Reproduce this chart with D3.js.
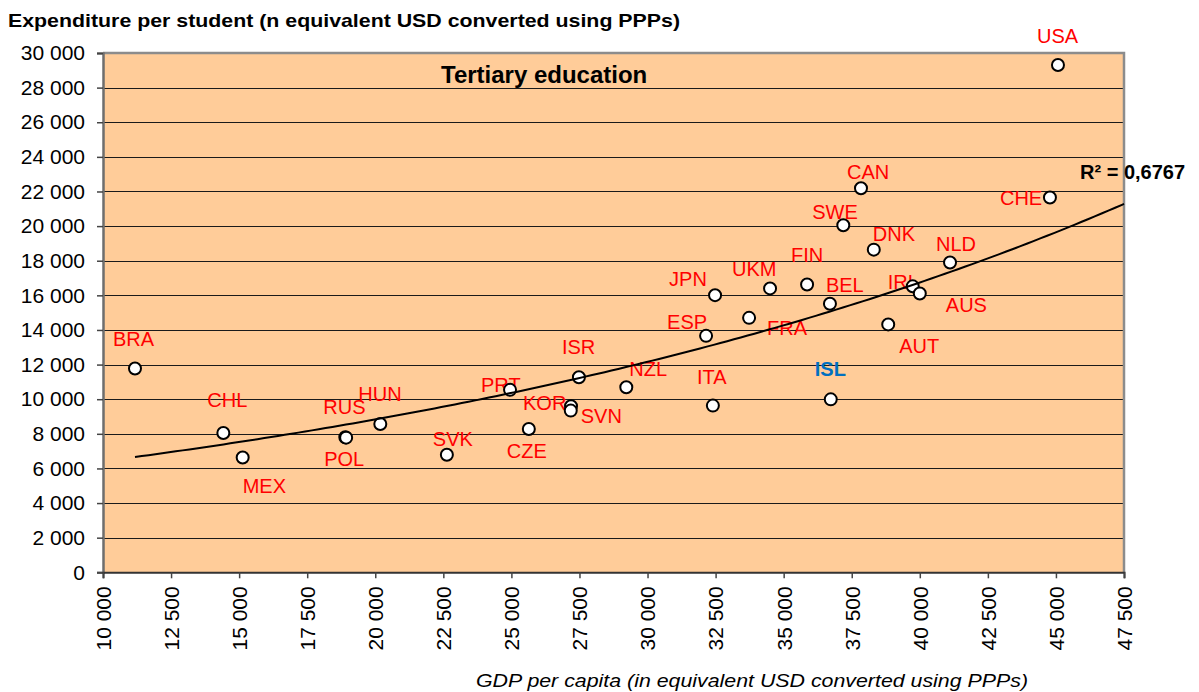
<!DOCTYPE html>
<html>
<head>
<meta charset="utf-8">
<script src="https://cdn.jsdelivr.net/npm/d3@7"></script>
<style>
  body { margin: 0; background: #fff; }
  svg { display: block; font-family: "Liberation Sans", Arial, sans-serif; }
</style>
</head>
<body>
<svg id="chart"></svg>
<script>
// ---- data
let countries = ['BRA','CHL','MEX','RUS','POL','HUN','SVK','PRT','KOR','SVN','CZE','ISR','NZL','ITA','ESP','JPN',
  'UKM','FRA','BEL','FIN','ISL','CAN','SWE','DNK','NLD','IRL','AUS','AUT','CHE','USA']
let gdp = [11175, 14420, 15130, 18900, 18930, 20185, 22630, 24950, 27190, 27180, 25640, 27480, 29220, 32400, 32150, 32480,
  34500, 33730, 36700, 35860, 36730, 37840, 37190, 38310, 41110, 39740, 40000, 38840, 44780, 45075]
let spend = [11770, 8050, 6630, 7800, 7780, 8570, 6790, 10540, 9590, 9340, 8280, 11270, 10690, 9630, 13660, 16010,
  16400, 14700, 15510, 16630, 9990, 22190, 20050, 18640, 17900, 16520, 16110, 14320, 21650, 29310]
let highlight = ['ISL']

// exponential trendline (Excel), read at its two ends: [gdp, expenditure]
let trendStart = [11175, 6660]
let trendEnd = [47500, 21280]

let xTicks = d3.range(10000, 47501, 2500)
let yTicks = d3.range(0, 30001, 2000)

// label placement (px, relative to the marker)
let labelPos = {
  BRA:[-22,-23], CHL:[-16,-26], MEX:[0,35], RUS:[-22,-23], POL:[-22,28], HUN:[-22,-23], SVK:[-14,-9],
  PRT:[-29,2], KOR:[-48,4], SVN:[10,12], CZE:[-22,29], ISR:[-17,-23], NZL:[3,-11], ITA:[-16,-22],
  ESP:[-39,-7], JPN:[-46,-9], UKM:[-38,-12], FRA:[18,17], BEL:[-4,-12], FIN:[-16,-22], ISL:[-16,-23],
  CAN:[-14,-9], SWE:[-31,-6], DNK:[-1,-9], NLD:[-14,-11], IRL:[-25,3], AUS:[26,19], AUT:[11,29],
  CHE:[-50,7], USA:[-21,-22]
}

let W = 1199, H = 692
let plot = {left: 103, right: 1124, top: 53, bottom: 572.3}

let svg = d3.select('#chart').attr('width', W).attr('height', H)

let x = d3.scaleLinear().domain([10000, 47500]).range([plot.left, plot.right])
let y = d3.scaleLinear().domain([0, 30000]).range([plot.bottom, plot.top])

let fmt = d => d3.format(',')(d).replace(/,/g, ' ')

// background
svg.append('rect')
  .attr('x', plot.left).attr('y', plot.top)
  .attr('width', plot.right - plot.left).attr('height', plot.bottom - plot.top)
  .attr('fill', '#FFCC99')

// gridlines
svg.append('g').selectAll('line').data(yTicks.filter(d => d > 0 && d < 30000))
  .enter().append('line')
  .attr('x1', plot.left).attr('x2', plot.right)
  .attr('y1', d => Math.round(y(d)) + 0.5).attr('y2', d => Math.round(y(d)) + 0.5)
  .attr('stroke', '#1a1a1a').attr('stroke-width', 1)

// border top / right
svg.append('path')
  .attr('d', `M${plot.left},${plot.top}H${plot.right}V${plot.bottom}`)
  .attr('fill', 'none').attr('stroke', '#8c8c8c').attr('stroke-width', 2.5)

// axes
let axisY = d3.axisLeft(y).tickValues(yTicks).tickFormat(fmt).tickSize(6).tickPadding(12)
let gy = svg.append('g').attr('transform', `translate(${plot.left},0)`).call(axisY)
gy.select('.domain').attr('stroke', '#6e6e6e').attr('stroke-width', 2.5)
gy.selectAll('.tick line').attr('stroke', '#444').attr('stroke-width', 1.5)
gy.selectAll('.tick text').attr('font-size', 21).attr('fill', '#000')
  .style('font-family', '"Liberation Sans", Arial, sans-serif')

let axisX = d3.axisBottom(x).tickValues(xTicks).tickFormat(fmt).tickSize(6).tickPadding(8)
let gx = svg.append('g').attr('transform', `translate(0,${plot.bottom})`).call(axisX)
gx.select('.domain').attr('stroke', '#333').attr('stroke-width', 2)
gx.selectAll('.tick line').attr('stroke', '#444').attr('stroke-width', 1.5)
gx.selectAll('.tick text').attr('font-size', 21).attr('fill', '#000')
  .style('font-family', '"Liberation Sans", Arial, sans-serif')
  .attr('transform', 'rotate(-90)')
  .attr('text-anchor', 'end')
  .attr('x', -14).attr('y', 0).attr('dy', '0.35em')

// exponential trend through the two read ends
let b = Math.log(trendEnd[1] / trendStart[1]) / (trendEnd[0] - trendStart[0])
let a = trendStart[1] / Math.exp(b * trendStart[0])
let trendX = d3.range(trendStart[0], trendEnd[0], 250).concat([trendEnd[0]])
let lineGen = d3.line().x(d => x(d)).y(d => y(a * Math.exp(b * d)))

// labels (drawn under markers)
let data = countries.map((c, i) => ({c: c, gx: gdp[i], sp: spend[i]}))
svg.append('g').selectAll('text').data(data)
  .enter().append('text')
  .attr('x', d => x(d.gx) + labelPos[d.c][0])
  .attr('y', d => y(d.sp) + labelPos[d.c][1])
  .attr('font-size', 20)
  .attr('font-weight', d => highlight.includes(d.c) ? 'bold' : 'normal')
  .attr('fill', d => highlight.includes(d.c) ? '#0070C0' : '#FF0000')
  .text(d => d.c)

// markers
svg.append('g').selectAll('circle').data(data)
  .enter().append('circle')
  .attr('cx', d => x(d.gx)).attr('cy', d => y(d.sp))
  .attr('r', 6)
  .attr('fill', '#fff').attr('stroke', '#000').attr('stroke-width', 2)

svg.append('path')
  .datum(trendX)
  .attr('d', lineGen)
  .attr('fill', 'none').attr('stroke', '#000').attr('stroke-width', 2)

// texts
svg.append('text')
  .attr('x', 8).attr('y', 27)
  .attr('font-size', 19).attr('font-weight', 'bold')
  .attr('textLength', 672).attr('lengthAdjust', 'spacingAndGlyphs')
  .text('Expenditure per student (n equivalent USD converted using PPPs)')

svg.append('text')
  .attr('x', 441).attr('y', 82.5)
  .attr('font-size', 24).attr('font-weight', 'bold')
  .text('Tertiary education')

svg.append('text')
  .attr('x', 1080).attr('y', 178.5)
  .attr('font-size', 20).attr('font-weight', 'bold')
  .text('R² = 0,6767')

svg.append('text')
  .attr('x', 476).attr('y', 687)
  .attr('font-size', 18).attr('font-style', 'italic')
  .attr('textLength', 552).attr('lengthAdjust', 'spacingAndGlyphs')
  .text('GDP per capita (in equivalent USD converted using PPPs)')
</script>
</body>
</html>
